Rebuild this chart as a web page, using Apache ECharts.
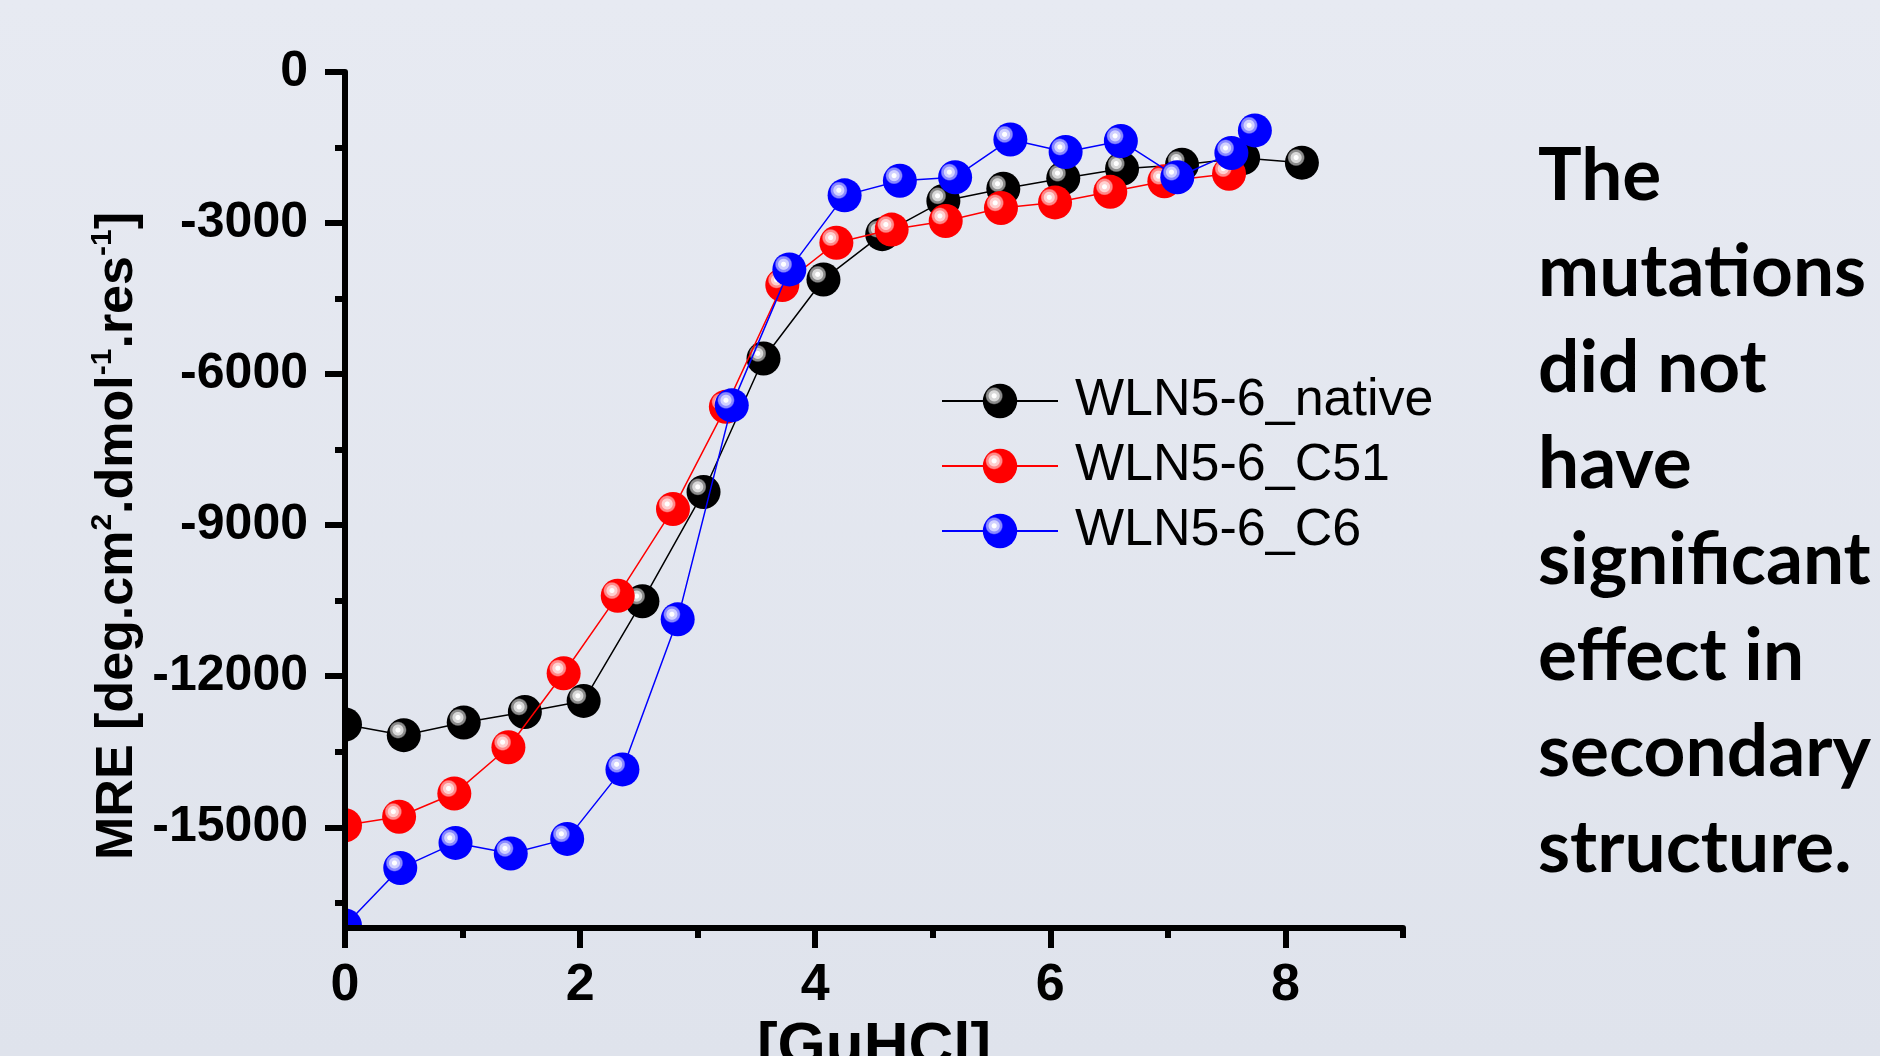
<!DOCTYPE html>
<html><head><meta charset="utf-8">
<script src="https://cdn.jsdelivr.net/npm/echarts@6/dist/echarts.min.js"></script>
<style>
html,body{margin:0;padding:0;width:1880px;height:1056px;overflow:hidden;background:linear-gradient(#e7eaf2,#dfe3ec);}
#c{width:1880px;height:1056px;}
</style>
</head><body><div id="c"></div>
<script>
const seriesNames = ['WLN5-6_native', 'WLN5-6_C51', 'WLN5-6_C6'];

const nativeX = [0, 0.50, 1.01, 1.53, 2.03, 2.53, 3.05, 3.56, 4.07, 4.57, 5.09, 5.60, 6.11, 6.61, 7.12, 7.64, 8.14];
const nativeY = [-12960, -13170, -12920, -12710, -12490, -10510, -8340, -5690, -4120, -3220, -2560, -2320, -2110, -1920, -1840, -1710, -1800];

const c51X = [0, 0.46, 0.93, 1.39, 1.86, 2.32, 2.79, 3.24, 3.72, 4.18, 4.65, 5.11, 5.58, 6.04, 6.51, 6.97, 7.52];
const c51Y = [-14960, -14790, -14330, -13410, -11940, -10400, -8680, -6650, -4230, -3390, -3130, -2960, -2700, -2590, -2380, -2170, -2020];

const c6X = [0, 0.47, 0.94, 1.41, 1.89, 2.36, 2.83, 3.29, 3.78, 4.25, 4.72, 5.19, 5.66, 6.13, 6.60, 7.08, 7.54, 7.74];
const c6Y = [-16950, -15810, -15310, -15520, -15230, -13850, -10870, -6620, -3920, -2450, -2160, -2090, -1340, -1590, -1370, -2090, -1610, -1160];

const xTickValues = [0, 2, 4, 6, 8];
const xMinorTickValues = [1, 3, 5, 7, 9];
const yTickValues = [0, -3000, -6000, -9000, -12000, -15000];
const yMinorTickValues = [-1500, -4500, -7500, -10500, -13500, -16500];

const sideText = ['The', 'mutations', 'did not', 'have', 'significant', 'effect in', 'secondary', 'structure.'];

const colors = ['#000000', '#ff0000', '#0000ff'];
const ringLight = ['#d8d8d8', '#ffd0d0', '#d0d0ff'];
const ringMid = ['#8c8c8c', '#ff8a8a', '#8a8aff'];

function ball(i) {
  return {
    type: 'radial', x: 0.33, y: 0.35, r: 0.55,
    colorStops: [
      {offset: 0, color: '#ffffff'},
      {offset: 0.11, color: '#ffffff'},
      {offset: 0.16, color: ringLight[i]},
      {offset: 0.27, color: ringLight[i]},
      {offset: 0.32, color: ringMid[i]},
      {offset: 0.40, color: ringMid[i]},
      {offset: 0.47, color: colors[i]},
      {offset: 1, color: colors[i]}
    ]
  };
}

const xs = [nativeX, c51X, c6X];
const ys = [nativeY, c51Y, c6Y];

const series = seriesNames.map((name, i) => ({
  type: 'line',
  name: name,
  xAxisIndex: 0, yAxisIndex: 0,
  data: xs[i].map((x, k) => [x, ys[i][k]]),
  symbol: 'circle',
  symbolSize: 34,
  showSymbol: true,
  lineStyle: {color: colors[i], width: 1.5},
  itemStyle: {color: ball(i), borderWidth: 0},
  emphasis: {disabled: true},
  z: 2 + i
}));

const FONT = 'Liberation Sans, Arial, sans-serif';
const gridRect = {left: 345, top: 72, width: 1058, height: 856, outerBoundsMode: 'none', containLabel: false};
const bgFill = {type: 'linear', x: 0, y: 0, x2: 0, y2: 1056, global: true,
  colorStops: [{offset: 0, color: '#e7eaf2'}, {offset: 1, color: '#dfe3ec'}]};

const chart = echarts.init(document.getElementById('c'), null, {renderer: 'canvas'});
chart.setOption({
  animation: false,
  backgroundColor: 'transparent',
  grid: [Object.assign({}, gridRect), Object.assign({}, gridRect)],
  legend: {
    orient: 'vertical', left: 941, top: 375, padding: 0,
    itemWidth: 116, itemHeight: 43, itemGap: 13,
    selectedMode: false,
    textStyle: {fontSize: 52, color: '#000', fontFamily: FONT, padding: [0, 0, 0, 12]},
    data: seriesNames
  },
  xAxis: [
    {
      type: 'value', gridIndex: 0, min: 0, max: 9, position: 'bottom', z: 10,
      axisLine: {show: true, onZero: false, lineStyle: {color: '#000', width: 6}},
      axisTick: {show: true, customValues: xTickValues, length: 20, lineStyle: {color: '#000', width: 6}},
      axisLabel: {customValues: xTickValues, margin: 32, fontSize: 52, fontWeight: 'bold', color: '#000', fontFamily: FONT,
        formatter: v => String(v)},
      splitLine: {show: false},
      name: '[GuHCl]', nameLocation: 'middle', nameGap: 80,
      nameTextStyle: {fontSize: 62, fontWeight: 'bold', color: '#000', fontFamily: FONT}
    },
    {
      type: 'value', gridIndex: 1, min: 0, max: 9, position: 'bottom', z: 10,
      axisLine: {show: false, onZero: false},
      axisTick: {show: true, customValues: xMinorTickValues, length: 10, lineStyle: {color: '#000', width: 6}},
      axisLabel: {show: false},
      splitLine: {show: false}
    }
  ],
  yAxis: [
    {
      type: 'value', gridIndex: 0, min: -17000, max: 0, position: 'left', z: 10,
      axisLine: {show: true, onZero: false, lineStyle: {color: '#000', width: 6}},
      axisTick: {show: true, customValues: yTickValues, length: 20, lineStyle: {color: '#000', width: 6}},
      axisLabel: {customValues: yTickValues, margin: 37, fontSize: 50, fontWeight: 'bold', color: '#000', fontFamily: FONT,
        formatter: v => String(v)},
      splitLine: {show: false}
    },
    {
      type: 'value', gridIndex: 1, min: -17000, max: 0, position: 'left', z: 10,
      axisLine: {show: false, onZero: false},
      axisTick: {show: true, customValues: yMinorTickValues, length: 10, lineStyle: {color: '#000', width: 6}},
      axisLabel: {show: false},
      splitLine: {show: false}
    }
  ],
  graphic: [
    {
      type: 'rect', z: 8, silent: true,
      shape: {x: 318, y: 40, width: 27, height: 900},
      style: {fill: bgFill}
    },
    {
      type: 'rect', z: 8, silent: true,
      shape: {x: 318, y: 928, width: 1100, height: 20},
      style: {fill: bgFill}
    },
    {
      type: 'text', x: 118, y: 536, rotation: Math.PI / 2,
      style: {
        text: '{b|MRE [deg.cm}{s|2}{b|.dmol}{s|-1}{b|.res}{s|-1}{b|]}',
        align: 'center', verticalAlign: 'middle',
        rich: {
          b: {fontSize: 52, fontWeight: 'bold', fill: '#000', fontFamily: FONT, lineHeight: 60},
          s: {fontSize: 30, fontWeight: 'bold', fill: '#000', fontFamily: FONT, lineHeight: 40, verticalAlign: 'top'}
        }
      }
    },
    {
      type: 'text', x: 1538, y: 128,
      style: {
        text: sideText.join('\n'),
        fontSize: 73, fontWeight: 'bold', fontFamily: 'Lato, sans-serif',
        lineHeight: 96, fill: '#000', align: 'left', verticalAlign: 'top'
      }
    }
  ],
  series: series
});
</script>
</body></html>
